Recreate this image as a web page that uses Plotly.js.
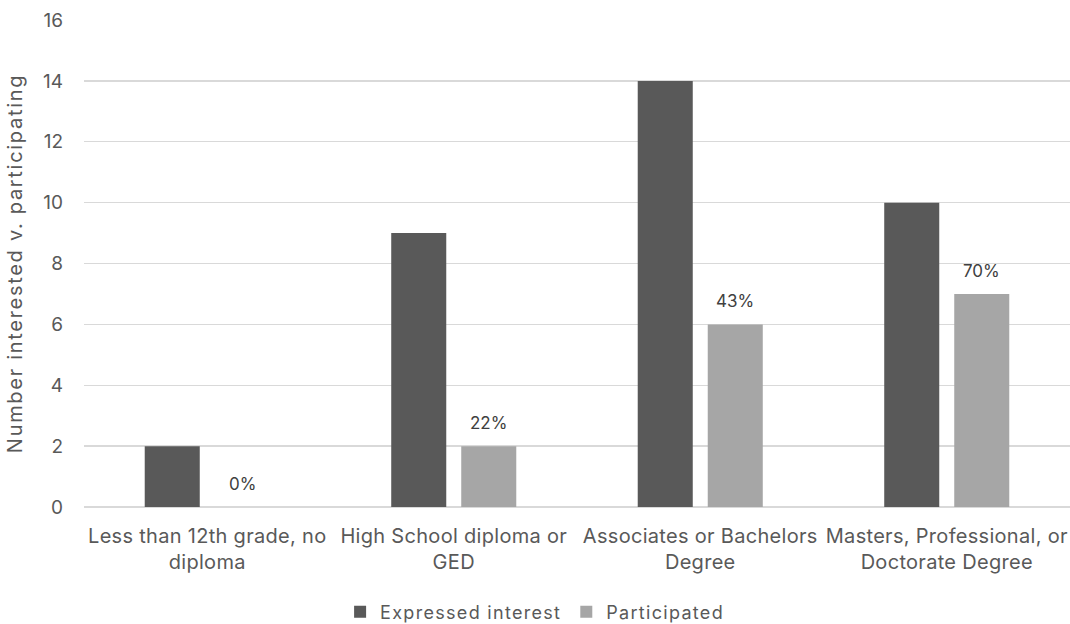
<!DOCTYPE html>
<html>
<head>
<meta charset="utf-8">
<script src="https://cdn.plot.ly/plotly-3.0.1.min.js"></script>
<style>
html,body{margin:0;padding:0;background:#fff;overflow:hidden;}
#chart{width:1070px;height:640px;}
.xtick text{letter-spacing:0.3px;}
.ytitle{letter-spacing:1.7px;}
.legendtext{letter-spacing:1.3px;}
</style>
</head>
<body>
<div id="chart"></div>
<script>
const categories = [
  "Less than 12th grade, no<br>diploma",
  "High School diploma or<br>GED",
  "Associates or Bachelors<br>Degree",
  "Masters, Professional, or<br>Doctorate Degree"
];
const expressedInterest = [2, 9, 14, 10];
const participated = [0, 2, 6, 7];
const participationLabels = ["0%", "22%", "43%", "70%"];
const yTicks = [0, 2, 4, 6, 8, 10, 12, 14, 16];

const FONT = "Inter, 'Liberation Sans', sans-serif";
const TXT = "#595959";

const traces = [
  {
    type: "bar", name: "Expressed interest", x: categories, y: expressedInterest,
    marker: {color: "#595959"}, hoverinfo: "none"
  },
  {
    type: "bar", name: "Participated", x: categories, y: participated,
    marker: {color: "#a6a6a6"}, hoverinfo: "none"
  }
];

const annotations = categories.map((c, i) => ({
  x: c, y: participated[i], xref: "x", yref: "y",
  text: participationLabels[i], showarrow: false,
  xshift: 35, yshift: 23,
  font: {family: FONT, size: 17, color: "#404040"}
}));

const layout = {
  width: 1070, height: 640,
  margin: {l: 84, r: 0, t: 20, b: 133},
  paper_bgcolor: "#fff", plot_bgcolor: "#fff",
  barmode: "group", bargap: 0.432, bargroupgap: 0.214,
  font: {family: FONT, color: TXT, size: 16},
  xaxis: {
    type: "category", showgrid: false, zeroline: false,
    showline: false, ticks: "", ticklabelstandoff: 15,
    tickfont: {family: FONT, size: 20, color: TXT}
  },
  yaxis: {
    range: [0, 16], tickvals: yTicks, ticktext: yTicks.map(String),
    showgrid: true, gridcolor: "#d9d9d9", gridwidth: 1.3,
    zeroline: true, zerolinecolor: "#d9d9d9", zerolinewidth: 1.3,
    showline: false, ticks: "", ticklabelstandoff: 20,
    tickfont: {family: FONT, size: 19, color: TXT},
    title: {text: "Number interested v. participating", standoff: 14,
            font: {family: FONT, size: 20, color: TXT}}
  },
  showlegend: true,
  legend: {
    orientation: "h", x: 0.457, xanchor: "center", y: -0.2156, yanchor: "middle",
    font: {family: FONT, size: 18, color: TXT}, itemwidth: 30, traceorder: "normal"
  },
  annotations: annotations
};

Plotly.newPlot("chart", traces, layout, {displayModeBar: false, staticPlot: true});
</script>
</body>
</html>
